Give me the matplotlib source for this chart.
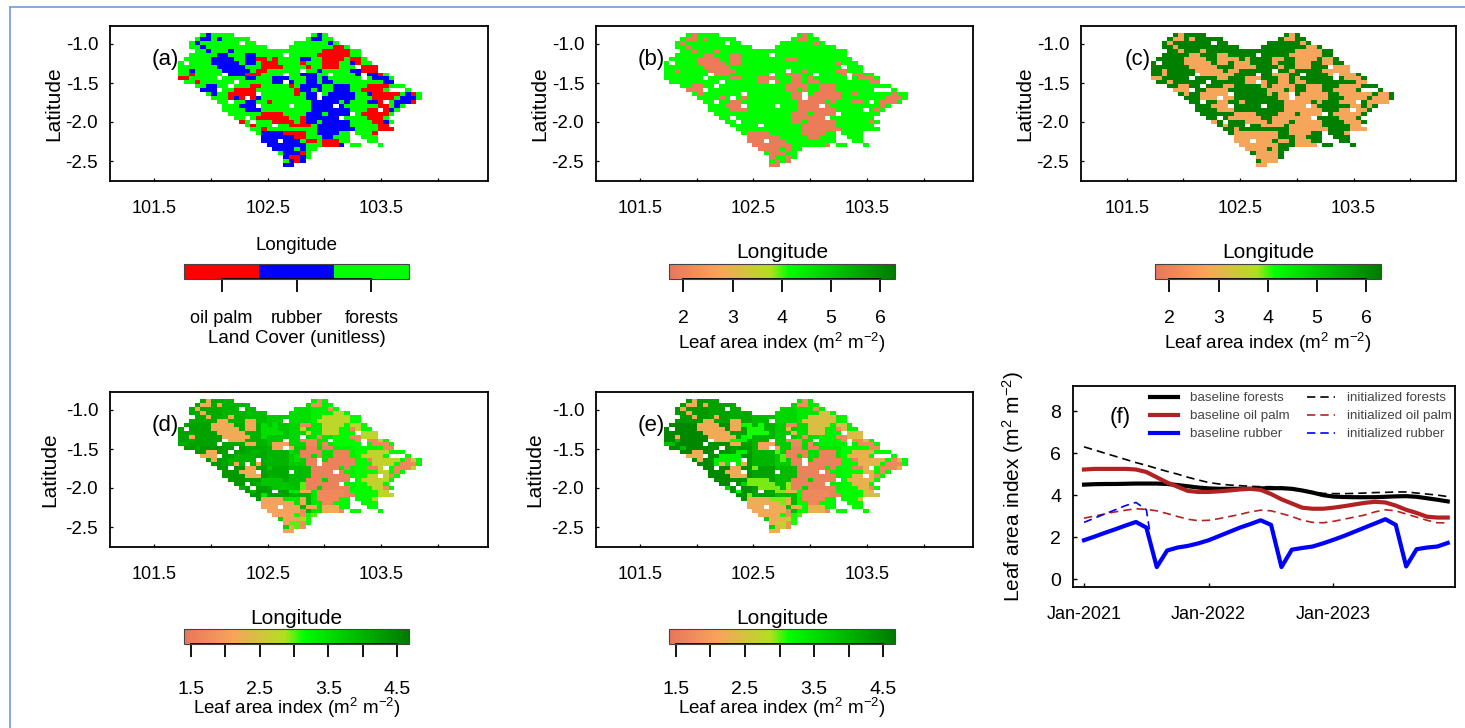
import numpy as np
import matplotlib
matplotlib.use("Agg")
import matplotlib.pyplot as plt
from matplotlib.colors import LinearSegmentedColormap, ListedColormap, Normalize
from matplotlib.cm import ScalarMappable
from matplotlib.lines import Line2D

plt.rcParams.update({
    "font.family": ["Liberation Sans", "DejaVu Sans"],
    "mathtext.fontset": "custom", "mathtext.rm": "Liberation Sans",
    "mathtext.default": "regular", "axes.linewidth": 1.3,
})

# Land cover grid: G forests, R oil palm, B rubber, . no data
land_cover_rows = [
    "....GBGGGG..............GBG.................",
    "...GBBGBGGGGG..........GBBGG................",
    "..GBGGGGGGG.GG.......GGGGGGBG...............",
    "..GGBGGGGGGGGGGG....GGGGGGGGRRG.............",
    "...GGBGGGBGGGGGGGGGGGGGGGGRRRRRGG...........",
    "..GGGGGBBGGGBBGGGGG.GGGGGRRRRRRGG...........",
    ".GGGGGBBBBGGBBRRGRGGGGBBGGRRRRGRRG..........",
    "G.GGGGBBBBBGBBGRRRGGGGRGGGRRRGGBRGG.........",
    "GGGGGGGBBBBBGGGRRRRGGGGRGGRRRGGG.RRR........",
    "GGBGGGGGBBBBBGRRGGGGGG.GGBGGGGGBBRRR........",
    "GGRGGGGG.BBBRRRGGGG.GGBBBGG.GGGGB.BBRG......",
    "RRGGGGG.GGGGBBGGGBBBGGGBBGBGGGGGG.GBBBG.....",
    ".GGRGGGGGG.GGGGGGBB.BGGBBGBBGGGGGGGGGBB.....",
    "...GGBBGG.GGGRRGGGGGRGBBBBGGBBBGGGRRRRGGG...",
    "....BBB.GGRRRRGGGGGGGRBBGBGGBBBGGRRRRG...G..",
    ".....GBGGRRRRR.GGGGGGRGBB.GBBBBBGGBRRRRRGBRG",
    "......GGGRBR.RBGGGGGGGGBB.BBBBBBGGGRRRRGBBBG",
    ".......GG.GGBBGGRGGGGGGGBBBBBGBGGGBBR.GBBBR.",
    "........GGGBBB.GGGGG.GGGBBBB.BGGGGGGRRGBG...",
    "........GGGGBBBGGGGGGGGGBBBBBBBGGGRR.RBG....",
    ".........GGGGGGRRRRGGGGBBBGBBBB.GRRRRRG.....",
    "..........GG.GRRRRRRGGRBBBBBB.GGGGRRRG......",
    "...........RG.GGGRRRRGRBBGBBBBBGGGGRRBG.....",
    "............GRGGG.GGRRRRGBBBBBBGGGGGRR......",
    ".............GGRGGGGGGGGGBBBBBBBGGGGRRR.....",
    "..............GBBBBRRRRGGBBBBGG.GGGR........",
    "...............BBBBBBRRGGGBBGGG..GGG........",
    "...............BBB.BBBGRRGRRRGG...GG........",
    "................BBBBBBBGGGRRRB.GG...G.......",
    ".................BBBBGBGG...................",
    "..................GBBBRG....................",
    "...................BRRBG....................",
    "...................GBRB.....................",
    "...................BB.......................",
]

lai_b = {"G": 4.15, "R": 4.15, "B": 1.85}
lai_c = {"G": 6.2, "R": 2.75, "B": 2.75}

# LAI tables per class (rows north to south, columns west to east)
d_forests = [[4.1, 4.1, 4.0, 3.9, 3.7, 3.5, 3.3, 3.2, 3.2, 3.2, 3.2],
             [4.2, 4.2, 4.1, 4.0, 3.8, 3.6, 3.4, 3.2, 3.2, 3.2, 3.2],
             [4.3, 4.3, 4.2, 4.1, 4.0, 3.7, 3.5, 3.3, 3.2, 3.2, 3.2],
             [4.3, 4.3, 4.3, 4.2, 4.1, 3.9, 3.6, 3.3, 3.2, 3.2, 3.2],
             [4.3, 4.3, 4.3, 4.3, 4.2, 4.0, 3.4, 3.2, 3.2, 3.2, 3.2],
             [4.3, 4.3, 4.3, 4.2, 3.6, 3.1, 3.0, 3.1, 3.2, 3.2, 3.2]]
d_rubber = [[2.2, 2.2, 2.2, 1.8, 1.7, 1.7], [2.2, 2.2, 2.1, 1.7, 1.7, 1.7],
            [2.2, 2.2, 2.1, 1.6, 1.6, 1.7], [2.2, 2.2, 2.0, 1.6, 1.6, 1.7],
            [2.2, 2.2, 2.1, 1.7, 1.6, 1.7], [2.2, 2.2, 2.1, 1.8, 1.7, 1.7]]
d_palm = [[4.1, 4.0, 3.6, 2.75, 2.75, 2.7], [4.1, 4.0, 3.5, 2.75, 2.75, 2.7],
          [4.1, 4.0, 3.5, 3.0, 2.7, 2.7], [4.1, 4.0, 3.8, 3.0, 2.7, 2.7],
          [4.1, 4.0, 3.4, 2.2, 2.8, 2.7], [4.1, 4.0, 3.0, 2.9, 2.9, 2.8]]
e_forests = [[4.3, 4.3, 4.2, 4.1, 3.9, 3.6, 3.4, 3.3, 3.2, 3.2, 3.2],
             [4.5, 4.5, 4.4, 4.2, 4.0, 3.7, 3.5, 3.3, 3.3, 3.2, 3.2],
             [4.5, 4.5, 4.4, 4.3, 4.0, 3.7, 3.5, 3.4, 3.2, 3.2, 3.2],
             [4.5, 4.5, 4.5, 4.4, 4.2, 3.9, 3.6, 3.3, 3.2, 3.2, 3.2],
             [4.5, 4.5, 4.5, 4.4, 4.2, 3.9, 3.2, 3.2, 3.2, 3.2, 3.2],
             [4.5, 4.5, 4.5, 4.4, 3.6, 3.1, 3.0, 3.1, 3.2, 3.2, 3.2]]
e_rubber = [[2.2, 2.2, 2.2, 1.8, 1.7, 1.7], [2.2, 2.2, 2.1, 1.7, 1.7, 1.7],
            [2.2, 2.2, 2.1, 1.6, 1.6, 1.7], [2.2, 2.2, 2.0, 1.6, 1.6, 1.7],
            [2.2, 2.2, 2.2, 1.7, 1.6, 1.7], [2.2, 2.2, 2.2, 1.8, 1.7, 1.7]]
e_palm = [[3.9, 3.5, 3.2, 2.45, 2.4, 2.4], [3.9, 3.2, 3.1, 2.45, 2.4, 2.4],
          [3.9, 3.3, 3.0, 2.9, 2.3, 2.3], [3.9, 3.6, 2.95, 2.9, 2.3, 2.3],
          [3.9, 3.2, 2.95, 2.3, 2.5, 2.4], [3.9, 3.2, 2.7, 2.7, 2.7, 2.6]]

# Panel (f) monthly series
months = list(range(36))
tick_months = [0, 12, 24]
tick_month_labels = ["Jan-2021", "Jan-2022", "Jan-2023"]
base_forests = [4.5, 4.52, 4.53, 4.53, 4.54, 4.55, 4.55, 4.55, 4.53, 4.48, 4.42, 4.36,
                4.32, 4.3, 4.3, 4.3, 4.3, 4.32, 4.33, 4.33, 4.3, 4.22, 4.12, 4.0,
                3.93, 3.91, 3.9, 3.9, 3.9, 3.92, 3.94, 3.95, 3.92, 3.85, 3.78, 3.7]
base_palm = [5.22, 5.25, 5.25, 5.25, 5.25, 5.22, 5.1, 4.85, 4.6, 4.4, 4.2, 4.15,
             4.15, 4.18, 4.22, 4.27, 4.3, 4.25, 4.05, 3.8, 3.6, 3.4, 3.35, 3.35,
             3.4, 3.47, 3.55, 3.63, 3.68, 3.65, 3.5, 3.3, 3.15, 2.97, 2.93, 2.93]
base_rubber = [1.85, 2.02, 2.2, 2.37, 2.55, 2.72, 2.45, 0.57, 1.36, 1.5, 1.58, 1.7,
               1.85, 2.05, 2.25, 2.45, 2.62, 2.8, 2.58, 0.57, 1.4, 1.48, 1.55, 1.7,
               1.87, 2.05, 2.25, 2.45, 2.65, 2.85, 2.58, 0.6, 1.42, 1.5, 1.55, 1.72]
init_forests = [6.3, 6.15, 6.0, 5.85, 5.7, 5.55, 5.42, 5.27, 5.13, 5.0, 4.85, 4.72,
                4.6, 4.53, 4.48, 4.45, 4.42, 4.4, 4.4, 4.37, 4.33, 4.25, 4.15, 4.08,
                4.07, 4.07, 4.08, 4.1, 4.12, 4.13, 4.15, 4.15, 4.1, 4.05, 4.0, 3.93]
init_palm = [2.9, 3.0, 3.1, 3.2, 3.28, 3.35, 3.32, 3.25, 3.12, 2.98, 2.85, 2.78,
             2.8, 2.88, 2.98, 3.08, 3.2, 3.28, 3.25, 3.12, 2.98, 2.8, 2.7, 2.68,
             2.75, 2.85, 2.95, 3.05, 3.2, 3.3, 3.25, 3.1, 2.95, 2.8, 2.68, 2.68]
init_rubber_months = [0, 1, 2, 3, 4, 5, 6, 6.3]
init_rubber = [2.7, 2.9, 3.1, 3.3, 3.5, 3.65, 3.3, 2.35]

lai_ticks_wide = [2, 3, 4, 5, 6]
lai_ticks_narrow = [1.5, 2.0, 2.5, 3.0, 3.5, 4.0, 4.5]
narrow_labels = ["1.5", "", "2.5", "", "3.5", "", "4.5"]
lat_ticks = [-1.0, -1.5, -2.0, -2.5]
lon_ticks = [101.5, 102.0, 102.5, 103.0, 103.5, 104.0]
lon_labels = ["101.5", "", "102.5", "", "103.5", ""]

W, H = 1465, 728
fig = plt.figure(figsize=(W / 100, H / 100), dpi=100, facecolor="white")

def px_axes(l, t, r, b):
    return fig.add_axes([l / W, 1 - b / H, (r - l) / W, (b - t) / H])

cmap_lai = LinearSegmentedColormap.from_list("lai", [
    (0.0, "#E8765A"), (0.22, "#F8A45C"), (0.45, "#B0E020"), (0.53, "#00FF00"), (1.0, "#007A00")])
cmap_lc = ListedColormap(["#FF0000", "#0000FF", "#00FF00"])

class_grid = np.array([list(r.ljust(44, ".")[:44]) for r in land_cover_rows])
nr, nc = class_grid.shape
lon_edges = np.linspace(101.71, 103.86, nc + 1)
lat_edges = np.linspace(-0.863, -2.573, nr + 1)

def from_constants(table):
    z = np.full(class_grid.shape, np.nan)
    for k, v in table.items():
        z[class_grid == k] = v
    return z

def from_tables(forests, palm, rubber):
    z = np.full(class_grid.shape, np.nan)
    tabs = {"G": np.array(forests), "R": np.array(palm), "B": np.array(rubber)}
    for i in range(nr):
        for j in range(nc):
            k = class_grid[i, j]
            if k in tabs:
                t = tabs[k]
                z[i, j] = t[i * t.shape[0] // nr, j * t.shape[1] // nc]
    return z

def map_panel(box, anchor, z, cmap, norm, letter, lab_x, lon_x, lon_y, lon_fs):
    l, t, r, b = box
    ax = px_axes(l, t, r, b)
    ax.pcolormesh(lon_edges, lat_edges, z, cmap=cmap, norm=norm, shading="flat")
    ax.set_xlim(101.5 - (anchor - l) / 113.4, 101.5 + (r - anchor) / 113.4)
    ax.set_ylim(-2.5 - 20 / 78.0, -1.0 + 18 / 78.0)
    ax.set_xticks(lon_ticks)
    ax.set_xticklabels(lon_labels, fontsize=13)
    ax.set_yticks(lat_ticks)
    ax.set_yticklabels([f"{v:.1f}" for v in lat_ticks], fontsize=13.5)
    ax.tick_params(axis="x", direction="in", length=2.5, width=0.9, pad=14)
    ax.tick_params(axis="y", direction="in", length=2.5, width=0.9, pad=8.5)
    ax.set_ylabel("Latitude", fontsize=15)
    ax.yaxis.set_label_coords((lab_x - l) / (r - l), 0.5)
    ax.yaxis.label.set_va("center")
    ax.set_xlabel("Longitude", fontsize=lon_fs)
    ax.xaxis.set_label_coords((lon_x - l) / (r - l), -(lon_y - b) / (b - t))
    ax.xaxis.label.set_va("center")
    ax.text((anchor + 11 - l) / (r - l), (b - (t + 34)) / (b - t), letter, fontsize=16,
            ha="center", va="center", transform=ax.transAxes)
    return ax

def colorbar(box, sm, ticks, labels, label, label_y, pad):
    l, t, r, b = box
    cax = px_axes(l, t, r, b)
    cb = fig.colorbar(sm, cax=cax, orientation="horizontal", ticks=ticks)
    cb.outline.set_linewidth(0.8)
    cb.outline.set_edgecolor("#444444")
    cax.set_xticks(ticks)
    cax.set_xticklabels(labels, fontsize=14)
    cax.tick_params(axis="x", direction="out", length=9.5, width=1.3, pad=pad)
    cax.minorticks_off()
    cax.plot([ticks[0], ticks[-1]], [0, 0], color="black", lw=1.3, clip_on=False,
             transform=cax.get_xaxis_transform(), scalex=False, scaley=False)
    cb.set_label(label, fontsize=13.5)
    cax.xaxis.set_label_coords(0.5, -(label_y - b) / (b - t))
    cax.xaxis.label.set_va("center")
    return cb

leaf_label = r"Leaf area index (m$^{2}$ m$^{-2}$)"

# (a)
lc_values = np.full(class_grid.shape, np.nan)
for idx, k in enumerate("RBG"):
    lc_values[class_grid == k] = idx
norm_lc = Normalize(-0.5, 2.5)
map_panel((110, 26, 488, 181), 154.3, lc_values, cmap_lc, norm_lc, "(a)", 54, 296.5, 246, 13.5)
cb = colorbar((184, 264, 409, 279), ScalarMappable(norm_lc, cmap_lc), [0, 1, 2],
              ["oil palm", "rubber", "forests"], "Land Cover (unitless)", 338, 13)
cb.ax.tick_params(labelsize=13)

# (b), (c)
norm_wide = Normalize(1.71, 6.3)
map_panel((596, 26, 973, 181), 640, from_constants(lai_b), cmap_lai, norm_wide, "(b)", 540, 782, 253, 15)
colorbar((669, 264, 895, 279), ScalarMappable(norm_wide, cmap_lai), lai_ticks_wide,
         [str(v) for v in lai_ticks_wide], leaf_label, 343, 13)
map_panel((1081, 26, 1456, 181), 1126.7, from_constants(lai_c), cmap_lai, norm_wide, "(c)", 1025, 1268, 253, 15)
colorbar((1155, 264, 1381, 279), ScalarMappable(norm_wide, cmap_lai), lai_ticks_wide,
         [str(v) for v in lai_ticks_wide], leaf_label, 343, 13)

# (d), (e)
norm_narrow = Normalize(1.4, 4.67)
map_panel((110, 392, 488, 547), 154.3, from_tables(d_forests, d_palm, d_rubber), cmap_lai, norm_narrow,
          "(d)", 50, 296.5, 618, 15)
colorbar((184, 629, 409, 644), ScalarMappable(norm_narrow, cmap_lai), lai_ticks_narrow, narrow_labels,
         leaf_label, 708, 17)
map_panel((596, 392, 973, 547), 640, from_tables(e_forests, e_palm, e_rubber), cmap_lai, norm_narrow,
          "(e)", 535, 782, 618, 15)
colorbar((669, 629, 895, 644), ScalarMappable(norm_narrow, cmap_lai), lai_ticks_narrow, narrow_labels,
         leaf_label, 708, 17)

# (f)
axf = px_axes(1073, 386, 1455, 587)
axf.plot(months, base_forests, color="black", lw=3, label="baseline forests")
axf.plot(months, base_palm, color="#B22222", lw=3, label="baseline oil palm")
axf.plot(months, base_rubber, color="#0000FF", lw=3, label="baseline rubber")
axf.plot(months, init_forests, color="black", lw=1.2, ls=(0, (5, 3)), label="initialized forests")
axf.plot(months, init_palm, color="#B22222", lw=1.2, ls=(0, (5, 3)), label="initialized oil palm")
axf.plot(init_rubber_months, init_rubber, color="#0000FF", lw=1.2, ls=(0, (5, 3)), label="initialized rubber")
axf.set_xlim(-1.06, 35.7)
axf.set_ylim(-0.38, 9.2)
axf.set_xticks(tick_months)
axf.set_xticklabels(tick_month_labels, fontsize=13)
axf.set_yticks([0, 2, 4, 6, 8])
axf.tick_params(axis="x", direction="in", length=3, width=1, pad=14)
axf.tick_params(axis="y", direction="in", length=3, width=1, pad=8.5, labelsize=14)
axf.set_ylabel(leaf_label, fontsize=15)
axf.yaxis.set_label_coords((1013 - 1073) / 382, 0.5)
axf.yaxis.label.set_va("center")
axf.text((1120 - 1073) / 382, (587 - 417) / 201, "(f)", fontsize=16, ha="center", va="center",
         transform=axf.transAxes)
axf.legend(loc="upper left", bbox_to_anchor=((1150 - 1073) / 382, (587 - 392) / 201), ncol=2,
           frameon=False, fontsize=9.6, borderpad=0, borderaxespad=0, handlelength=2.1,
           handletextpad=0.9, columnspacing=1.3, labelspacing=0.42, labelcolor="#444444")

# thin blue frame at the top and left of the page
fig.add_artist(Line2D([10 / W, 10 / W], [0, 1 - 6.5 / H], color="#6F9BDB", lw=1.2))
fig.add_artist(Line2D([10 / W, 1], [1 - 6.5 / H, 1 - 6.5 / H], color="#6F9BDB", lw=1.2))

fig.savefig("out.png", dpi=100)
